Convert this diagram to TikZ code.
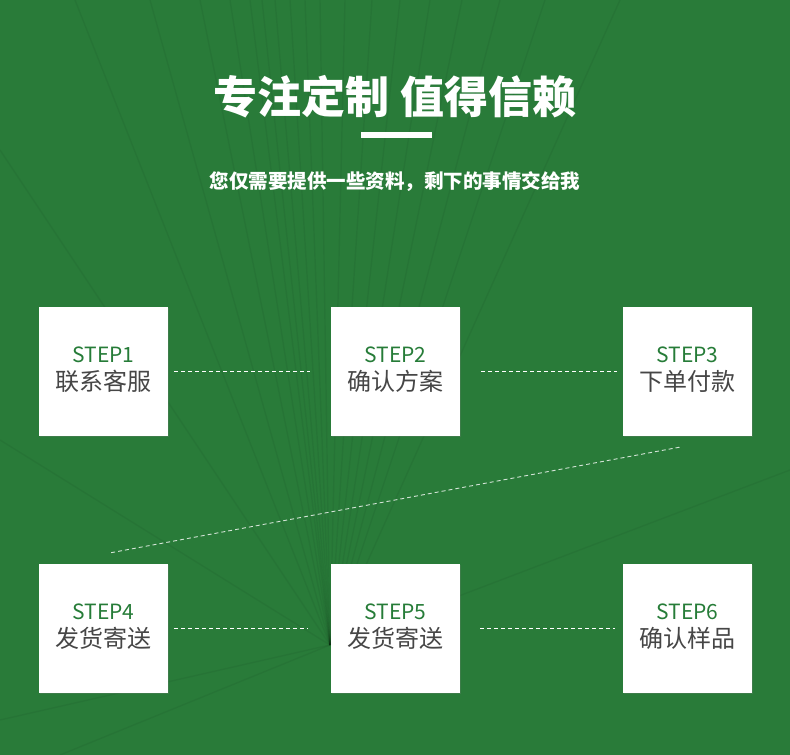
\documentclass[tikz,border=0pt]{standalone}
\usepackage{fontspec}
\setmainfont{Noto Sans CJK SC}
\usetikzlibrary{shadows}

\definecolor{fondo}{RGB}{41,123,57}
\definecolor{verde}{RGB}{38,124,56}
\definecolor{gris}{RGB}{70,70,70}

\tikzset{
  paso/.style={fill=white, minimum size=129bp, inner sep=0pt, align=center,
    drop shadow={opacity=0.25, shadow xshift=0.8bp, shadow yshift=-0.8bp}},
  enlace/.style={draw=white, line width=0.9bp, dash pattern=on 4bp off 3bp},
  rayo/.style={black, opacity=0.05, line width=1.4bp}
}

\begin{document}
\begin{tikzpicture}[x=1bp,y=-1bp]

% Fondo
\fill[fondo] (0,0) rectangle (790,755);
\useasboundingbox (0,0) rectangle (790,755);

% Lineas del fondo
\foreach \x in {75,150,200,230,250,262,275,290,305,320,345,372,400,430,462,500,545,620}
  \draw[rayo] (330,645) -- (\x,0);
\draw[rayo] (330,645) -- (0,440);
\draw[rayo] (330,645) -- (0,150);
\draw[rayo] (330,645) -- (790,470);
\draw[rayo] (330,645) -- (0,720);
\draw[rayo] (330,645) -- (60,755);

% Titulo
\node[text=white, font=\fontsize{44bp}{44bp}\selectfont\bfseries] (titulo) at (395,97) {专注定制 值得信赖};
\fill[white] (361,132) rectangle (432,138);
\node[text=white, font=\fontsize{19.5bp}{20bp}\selectfont\bfseries] (subtitulo) at (395,182) {您仅需要提供一些资料，剩下的事情交给我};

% Pasos
\foreach \i/\x/\y/\txt in {1/103.5/371.5/联系客服, 2/395.5/371.5/确认方案, 3/687.5/371.5/下单付款,
                          4/103.5/628.5/发货寄送, 5/395.5/628.5/发货寄送, 6/687.5/628.5/确认样品}
  \node[paso] (s\i) at (\x,\y)
    {{\fontsize{21bp}{27bp}\selectfont\color{verde}STEP\i}\\[6bp]
     {\fontsize{24bp}{27bp}\selectfont\color{gris}\txt\rule[-6bp]{0pt}{0pt}}};

% Enlaces
\draw[enlace] ([xshift=6bp]s1.east) -- ([xshift=-21bp]s2.west);
\draw[enlace] ([xshift=21bp]s2.east) -- ([xshift=-6bp]s3.west);
\draw[enlace, opacity=0.8] ([shift={(-8,11)}]s3.south) -- ([shift={(7,-11)}]s4.north);
\draw[enlace] ([xshift=6bp]s4.east) -- ([xshift=-23bp]s5.west);
\draw[enlace] ([xshift=20bp]s5.east) -- ([xshift=-8bp]s6.west);

\end{tikzpicture}
\end{document}
